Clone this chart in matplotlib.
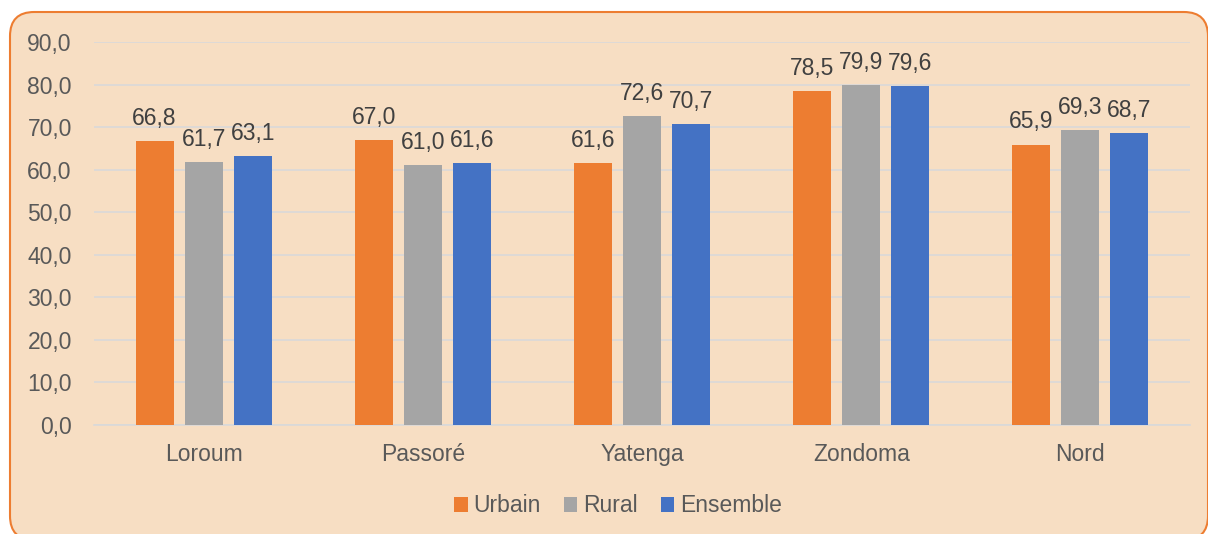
import matplotlib.pyplot as plt
from matplotlib.patches import FancyBboxPatch
import numpy as np

plt.rcParams['font.family'] = ['Liberation Sans', 'DejaVu Sans']

categories = ['Loroum', 'Passoré', 'Yatenga', 'Zondoma', 'Nord']
urbain = [66.8, 67.0, 61.6, 78.5, 65.9]
rural = [61.7, 61.0, 72.6, 79.9, 69.3]
ensemble = [63.1, 61.6, 70.7, 79.6, 68.7]

series = [('Urbain', urbain, '#ED7D31'),
          ('Rural', rural, '#A5A5A5'),
          ('Ensemble', ensemble, '#4472C4')]

bg = '#F7DEC3'
txt = '#595959'
fs = 16.5

fig = plt.figure(figsize=(12.08, 5.34), dpi=100)
fig.patch.set_facecolor('white')

# rounded chart area (cut off at bottom and right like the source)
W, H = 1208, 534
box = FancyBboxPatch((10 / W, -6 / H), (1208 - 10) / W, (534 - 12 + 6) / H,
                     boxstyle='round,pad=0,rounding_size=0.02',
                     transform=fig.transFigure, facecolor=bg,
                     edgecolor='#ED7D31', linewidth=1.5, zorder=-5,
                     mutation_aspect=W / H, clip_on=False)
fig.patches.append(box)

ax = fig.add_axes([94 / W, 1 - 425 / H, (1190 - 94) / W, (425 - 42) / H])
ax.set_facecolor('none')

x = np.arange(len(categories))
step = 0.2237
width = 0.1735
for i, (name, vals, col) in enumerate(series):
    pos = x + (i - 1) * step
    bars = ax.bar(pos, vals, width, color=col, label=name, zorder=3)
    ax.bar_label(bars, labels=[f'{v:.1f}'.replace('.', ',') for v in vals],
                 padding=8, fontsize=fs, color='#404040')

ax.set_xlim(-0.5, len(categories) - 0.5)
ax.set_ylim(0, 90)
ax.set_yticks(np.arange(0, 91, 10))
ax.set_yticklabels([f'{v:.1f}'.replace('.', ',') for v in np.arange(0, 91, 10)])
ax.set_xticks(x)
ax.set_xticklabels(categories)
ax.tick_params(axis='both', length=0, labelsize=fs, colors=txt)
ax.tick_params(axis='x', pad=13)
ax.tick_params(axis='y', pad=16)
ax.grid(axis='y', color='#D9D9D9', linewidth=1.2, zorder=0)
for s in ax.spines.values():
    s.set_visible(False)
ax.spines['bottom'].set_visible(True)
ax.spines['bottom'].set_color('#D9D9D9')
ax.spines['bottom'].set_linewidth(1.2)

leg = fig.legend(loc='center', bbox_to_anchor=(618 / W, 1 - 506 / H), ncol=3,
                 frameon=False, fontsize=fs, handlelength=0.6, handleheight=0.6,
                 handletextpad=0.25, columnspacing=1.0)
for t in leg.get_texts():
    t.set_color(txt)

plt.savefig('out.png', dpi=100, facecolor='white')
